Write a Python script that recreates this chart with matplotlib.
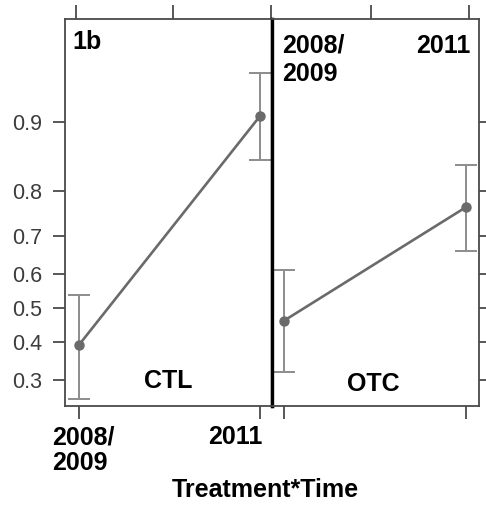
import matplotlib
matplotlib.use("Agg")
import matplotlib.pyplot as plt
from matplotlib.transforms import ScaledTranslation

plt.rcParams['font.family'] = ['Liberation Sans', 'DejaVu Sans']

# estimated proportions (back-transformed), with 95% CI
times = ["2008/\n2009", "2011"]
ctl_mean = [0.393, 0.906]
ctl_lo = [0.256, 0.852]
ctl_hi = [0.539, 0.941]
otc_mean = [0.463, 0.767]
otc_lo = [0.320, 0.661]
otc_hi = [0.610, 0.844]
yticks = [0.3, 0.4, 0.5, 0.6, 0.7, 0.8, 0.9]

W, H = 486, 507
fig = plt.figure(figsize=(W / 100, H / 100), dpi=100)

def frac(x0, y0, x1, y1):
    return [x0 / W, 1 - y1 / H, (x1 - x0) / W, (y1 - y0) / H]

ax1 = fig.add_axes(frac(65, 19, 272, 406))
ax2 = fig.add_axes(frac(272, 19, 479, 406))

spine_c = "#4a4a4a"
line_c = "#6a6a6a"
err_c = "#8c8c8c"

def draw(ax, mean, lo, hi, xlim):
    x = [0, 1]
    yerr = [[m - l for m, l in zip(mean, lo)], [h - m for m, h in zip(mean, hi)]]
    ax.errorbar(x, mean, yerr=yerr, fmt='none', ecolor=err_c, elinewidth=1.4,
                capsize=8, capthick=1.4, zorder=2)
    ax.plot(x, mean, color=line_c, lw=1.9, marker='o', ms=6.5, zorder=3)
    ax.set_yscale('logit')
    ax.set_ylim(0.2397, 0.968)
    ax.set_xlim(*xlim)
    ax.minorticks_off()
    for s in ax.spines.values():
        s.set_color(spine_c)
        s.set_linewidth(1.3)

draw(ax1, ctl_mean, ctl_lo, ctl_hi, (-0.077, 1.066))
draw(ax2, otc_mean, otc_lo, otc_hi, (-0.066, 1.071))

# left panel: labelled y axis and x axis
ax1.set_yticks(yticks)
ax1.set_yticklabels([f"{v:.1f}" for v in yticks])
ax1.tick_params(axis='y', length=9, width=1.3, color=spine_c, labelsize=15.5,
                labelcolor="#3c3c3c", pad=7.5)
ax1.set_xticks([0, 1])
ax1.set_xticklabels(times, fontsize=18, fontweight='bold', multialignment='left',
                    linespacing=1.1)
ax1.tick_params(axis='x', length=9, width=1.3, color=spine_c, pad=5)
xl = ax1.get_xticklabels()
xl[0].set_transform(xl[0].get_transform() + ScaledTranslation(4 / 100, 0, fig.dpi_scale_trans))
xl[1].set_ha('right')
xl[1].set_transform(xl[1].get_transform() + ScaledTranslation(2 / 100, 0, fig.dpi_scale_trans))
ax1.spines['right'].set_color('black')
ax1.spines['right'].set_linewidth(2.4)

# right panel: ticks only
ax2.yaxis.tick_right()
ax2.set_yticks(yticks)
ax2.set_yticklabels([])
ax2.tick_params(axis='y', length=9, width=1.3, color=spine_c)
ax2.set_xticks([0, 1])
ax2.set_xticklabels([])
ax2.tick_params(axis='x', length=9, width=1.3, color=spine_c)
ax2.spines['left'].set_color('black')
ax2.spines['left'].set_linewidth(2.4)

# top strip ticks
for ax, pos in [(ax1, [-0.017, 0.519, 1.06]), (ax2, [0.478, 1.016])]:
    top = ax.secondary_xaxis('top')
    top.set_xticks(pos)
    top.set_xticklabels([])
    top.tick_params(length=10, width=1.3, color=spine_c)
    top.spines['top'].set_visible(False)

bold = dict(fontsize=18, fontweight='bold', color='black')
ax1.text(0.035, 0.972, "1b", transform=ax1.transAxes, ha='left', va='top', **bold)
ax1.text(0.498, 0.064, "CTL", transform=ax1.transAxes, ha='center', va='center', **bold)
ax2.text(0.488, 0.057, "OTC", transform=ax2.transAxes, ha='center', va='center', **bold)
ax2.text(0.048, 0.962, "2008/\n2009", transform=ax2.transAxes, ha='left', va='top',
         linespacing=1.2, **bold)
ax2.text(0.957, 0.962, "2011", transform=ax2.transAxes, ha='right', va='top', **bold)

fig.text(265 / W, 1 - 490 / H, "Treatment*Time", ha='center', va='center', **bold)

fig.savefig("out.png", dpi=100)
